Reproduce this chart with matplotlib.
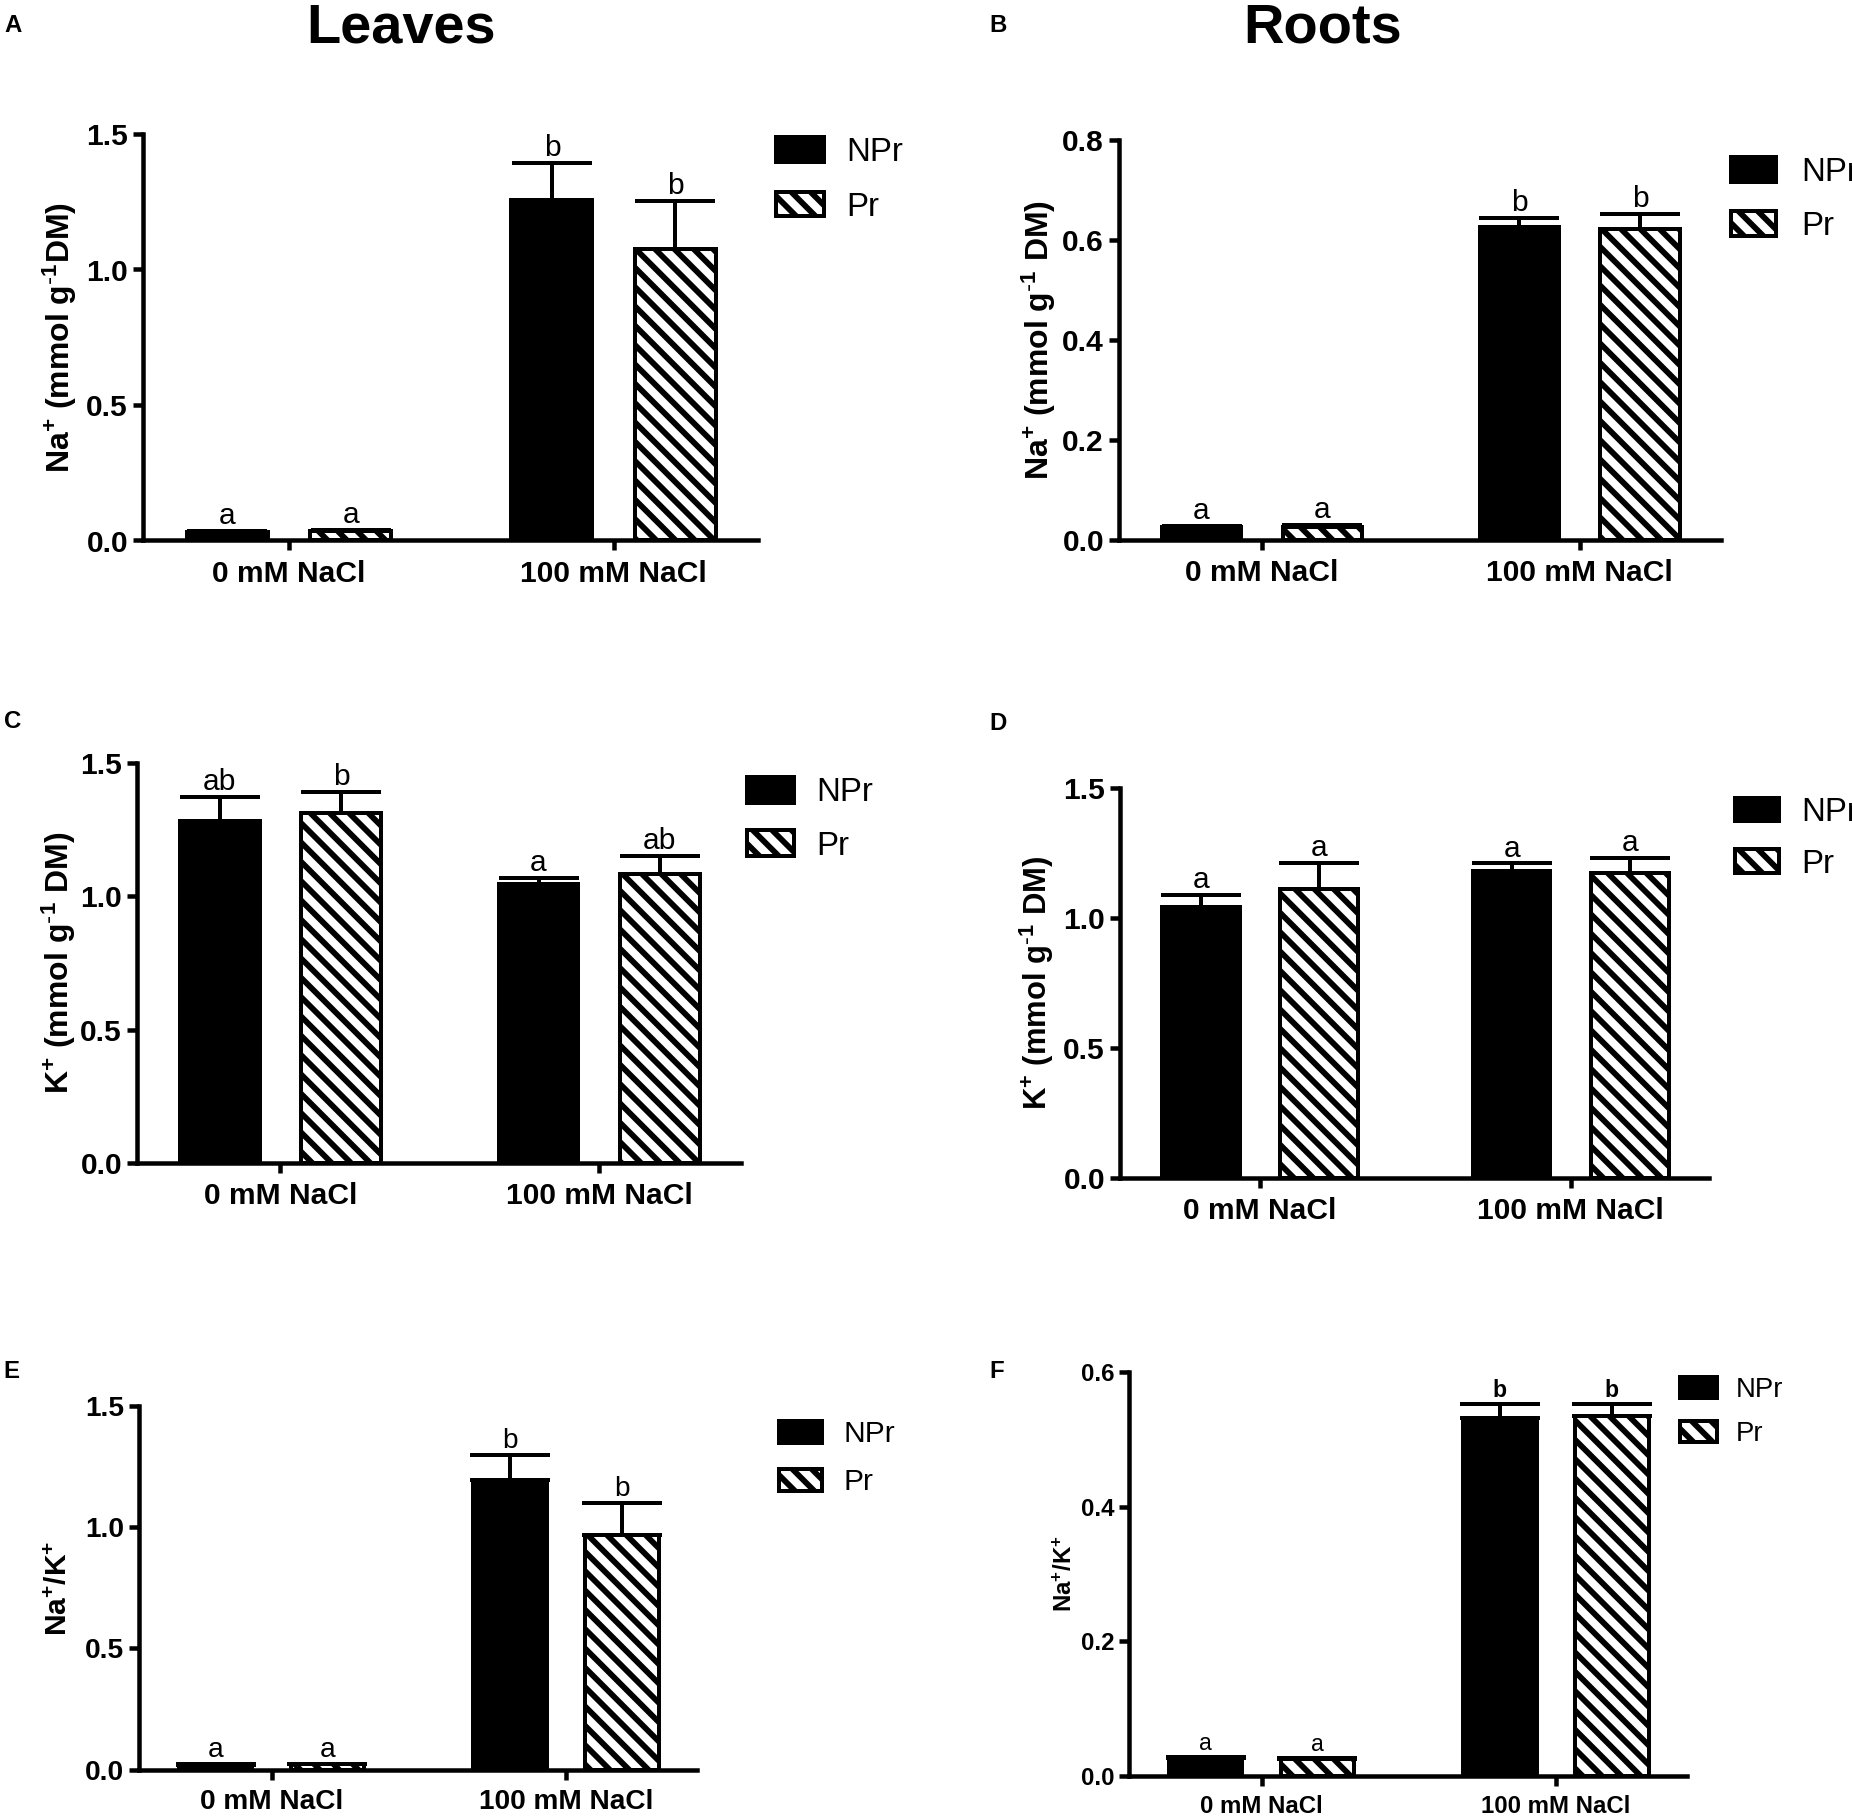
import matplotlib
matplotlib.use('Agg')
import matplotlib.pyplot as plt
from matplotlib.ticker import MultipleLocator, FormatStrFormatter
import numpy as np

DPI = 116
W, H = 1852, 1816

plt.rcParams['font.family'] = ['Liberation Sans', 'DejaVu Sans']
plt.rcParams['mathtext.default'] = 'regular'
plt.rcParams['hatch.linewidth'] = 5.8 * 72 / DPI


def pt(px):
    # pixel size -> points at the output dpi
    return px * 72 / DPI


conditions = ['0 mM NaCl', '100 mM NaCl']
groups = ['NPr', 'Pr']

# A - leaves Na+
leaf_na_npr = [0.032, 1.257]
leaf_na_npr_err = [0.004, 0.135]
leaf_na_pr = [0.035, 1.074]
leaf_na_pr_err = [0.004, 0.180]
leaf_na_letters = [['a', 'b'], ['a', 'b']]

# B - roots Na+
root_na_npr = [0.025, 0.625]
root_na_npr_err = [0.003, 0.018]
root_na_pr = [0.026, 0.622]
root_na_pr_err = [0.003, 0.030]
root_na_letters = [['a', 'b'], ['a', 'b']]

# C - leaves K+
leaf_k_npr = [1.285, 1.045]
leaf_k_npr_err = [0.087, 0.023]
leaf_k_pr = [1.312, 1.085]
leaf_k_pr_err = [0.080, 0.067]
leaf_k_letters = [['ab', 'a'], ['b', 'ab']]

# D - roots K+
root_k_npr = [1.043, 1.181]
root_k_npr_err = [0.045, 0.030]
root_k_pr = [1.112, 1.174]
root_k_pr_err = [0.100, 0.058]
root_k_letters = [['a', 'a'], ['a', 'a']]

# E - leaves Na+/K+
leaf_ratio_npr = [0.020, 1.196]
leaf_ratio_npr_err = [0.003, 0.100]
leaf_ratio_pr = [0.022, 0.968]
leaf_ratio_pr_err = [0.003, 0.134]
leaf_ratio_letters = [['a', 'b'], ['a', 'b']]

# F - roots Na+/K+
root_ratio_npr = [0.026, 0.532]
root_ratio_npr_err = [0.0025, 0.020]
root_ratio_pr = [0.025, 0.534]
root_ratio_pr_err = [0.002, 0.019]
root_ratio_letters = [['a', 'b'], ['a', 'b']]

panels = [
    dict(tag='A', npr=leaf_na_npr, npr_err=leaf_na_npr_err, pr=leaf_na_pr, pr_err=leaf_na_pr_err,
         letters=leaf_na_letters, ylabel=r'Na$^{+}$ (mmol g$^{\text{-}1}$DM)', ymax=1.5, ystep=0.5,
         box=(143, 758, 134, 540.5), ylab_off=83, ylab_fs=32, tick_fs=30, let_fs=30,
         legend=(776, 137, 48, 25, 55, 846, 33), tag_xy=(13, 32), bold_letters=()),
    dict(tag='B', npr=root_na_npr, npr_err=root_na_npr_err, pr=root_na_pr, pr_err=root_na_pr_err,
         letters=root_na_letters, ylabel=r'Na$^{+}$ (mmol g$^{\text{-}1}$ DM)', ymax=0.8, ystep=0.2,
         box=(1119, 1721, 140, 539.7), ylab_off=80, ylab_fs=32, tick_fs=30, let_fs=30,
         legend=(1731, 157, 45, 25, 54.5, 1801, 33), tag_xy=(998, 32), bold_letters=()),
    dict(tag='C', npr=leaf_k_npr, npr_err=leaf_k_npr_err, pr=leaf_k_pr, pr_err=leaf_k_pr_err,
         letters=leaf_k_letters, ylabel=r'K$^{+}$ (mmol g$^{\text{-}1}$ DM)', ymax=1.5, ystep=0.5,
         box=(137, 741, 763.3, 1162.8), ylab_off=78, ylab_fs=32, tick_fs=30, let_fs=30,
         legend=(747, 777, 46.5, 27, 53.5, 816, 33), tag_xy=(13, 728), bold_letters=()),
    dict(tag='D', npr=root_k_npr, npr_err=root_k_npr_err, pr=root_k_pr, pr_err=root_k_pr_err,
         letters=root_k_letters, ylabel=r'K$^{+}$ (mmol g$^{\text{-}1}$ DM)', ymax=1.5, ystep=0.5,
         box=(1120, 1709, 788.4, 1178.2), ylab_off=83, ylab_fs=31, tick_fs=30, let_fs=30,
         legend=(1735, 797, 44, 24, 52, 1801, 33), tag_xy=(998, 730), bold_letters=()),
    dict(tag='E', npr=leaf_ratio_npr, npr_err=leaf_ratio_npr_err, pr=leaf_ratio_pr, pr_err=leaf_ratio_pr_err,
         letters=leaf_ratio_letters, ylabel=r'Na$^{+}$/K$^{+}$', ymax=1.5, ystep=0.5,
         box=(139, 697, 1406, 1769.7), ylab_off=80, ylab_fs=30, tick_fs=28, let_fs=28,
         legend=(779, 1420, 43, 22.5, 48.5, 843, 30), tag_xy=(11, 1378), bold_letters=()),
    dict(tag='F', npr=root_ratio_npr, npr_err=root_ratio_npr_err, pr=root_ratio_pr, pr_err=root_ratio_pr_err,
         letters=root_ratio_letters, ylabel=r'Na$^{+}$/K$^{+}$', ymax=0.6, ystep=0.2,
         box=(1129, 1687, 1372.1, 1775.7), ylab_off=63.5, ylab_fs=24, tick_fs=24, let_fs=23,
         legend=(1680, 1377, 37, 21.5, 44, 1736, 27.5), tag_xy=(997, 1378), bold_letters=('b',)),
]

titles = [('Leaves', 401), ('Roots', 1323)]

bar_w = 0.25
offsets = [-0.19, 0.19]
styles = [dict(color='black', hatch=None), dict(color='white', hatch='\\\\')]

fig = plt.figure(figsize=((W + 0.01) / DPI, (H + 0.01) / DPI), dpi=DPI)

for p in panels:
    l, r, t, b = p['box']
    ax = fig.add_axes([l / W, 1 - b / H, (r - l) / W, (b - t) / H])
    x = np.arange(len(conditions))
    series = [(p['npr'], p['npr_err']), (p['pr'], p['pr_err'])]
    for k, (vals, errs) in enumerate(series):
        xs = x + offsets[k]
        ax.bar(xs, vals, width=bar_w, color=styles[k]['color'], hatch=styles[k]['hatch'],
               edgecolor='black', linewidth=pt(4), label=groups[k], zorder=2)
        ax.errorbar(xs, vals, yerr=[np.zeros(len(vals)), errs], fmt='none', ecolor='black',
                    elinewidth=pt(4), capsize=pt(40), capthick=pt(4), zorder=1)
        for xi, v, e, s in zip(xs, vals, errs, p['letters'][k]):
            ax.annotate(s, (xi, v + e), xytext=(0, pt(7)), textcoords='offset points',
                        ha='center', va='baseline', fontsize=pt(p['let_fs']),
                        fontweight='bold' if s in p['bold_letters'] else 'normal')

    ax.set_xlim(-0.45, 1.445)
    ax.set_ylim(0, p['ymax'])
    ax.set_xticks(x, conditions)
    ax.yaxis.set_major_locator(MultipleLocator(p['ystep']))
    ax.yaxis.set_major_formatter(FormatStrFormatter('%.1f'))
    ax.spines[['top', 'right']].set_visible(False)
    ax.spines[['left', 'bottom']].set_linewidth(pt(4.5))
    ax.tick_params(axis='both', length=pt(10), width=pt(4.5), labelsize=pt(p['tick_fs']))
    ax.tick_params(axis='x', pad=pt(9))
    ax.tick_params(axis='y', pad=pt(5))
    for lab in ax.get_xticklabels() + ax.get_yticklabels():
        lab.set_fontweight('bold')

    ax.set_ylabel(p['ylabel'], fontsize=pt(p['ylab_fs']), fontweight='bold')
    ax.yaxis.label.set_verticalalignment('center')
    ax.yaxis.set_label_coords(-p['ylab_off'] / (r - l), 0.5)

    bx, by, bw, bh, sp, tx, fs = p['legend']
    ax.legend(loc='upper left', bbox_to_anchor=(bx / W, 1 - by / H), bbox_transform=fig.transFigure,
              frameon=False, fontsize=pt(fs), handlelength=bw / fs, handleheight=bh / fs,
              handletextpad=(tx - bx - bw) / fs, labelspacing=(sp - 0.95 * fs) / fs,
              borderpad=0, borderaxespad=0)

    fig.text(p['tag_xy'][0] / W, 1 - p['tag_xy'][1] / H, p['tag'], ha='center', va='baseline',
             fontsize=pt(24), fontweight='bold')

for name, cx in titles:
    fig.text(cx / W, 1 - 42 / H, name, ha='center', va='baseline', fontsize=pt(56), fontweight='bold')

fig.savefig('out.png', dpi=DPI)
